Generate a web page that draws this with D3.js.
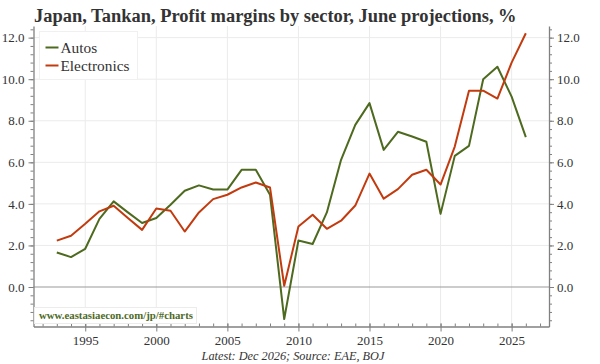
<!DOCTYPE html>
<html>
<head>
<meta charset="utf-8">
<script src="https://cdn.jsdelivr.net/npm/d3@7"></script>
<style>
  body { margin: 0; background: #fff; }
  text { font-family: "Liberation Serif", "DejaVu Serif", serif; fill: #333; }
</style>
</head>
<body>
<svg id="chart" width="600" height="364"></svg>
<script>
// data
let years = d3.range(1993, 2027)
let autos = [1.66, 1.44, 1.84, 3.28, 4.12, 3.59, 3.08, 3.32, 3.96, 4.63, 4.89, 4.69, 4.69, 5.64, 5.64, 4.44, -1.54,
             2.24, 2.07, 3.59, 6.12, 7.80, 8.85, 6.60, 7.47, 7.24, 6.99, 3.52, 6.31, 6.79, 10.0, 10.6, 9.16, 7.21]
let electronics = [2.23, 2.47, 3.04, 3.64, 3.91, 3.32, 2.75, 3.78, 3.67, 2.67, 3.59, 4.23, 4.44, 4.79, 5.03, 4.79, 0.06,
                   2.91, 3.48, 2.80, 3.19, 3.92, 5.46, 4.25, 4.71, 5.40, 5.64, 4.93, 6.76, 9.45, 9.45, 9.07, 10.8, 12.21]
let seriesNames = ["Autos", "Electronics"]
let xTicks = [1995, 2000, 2005, 2010, 2015, 2020, 2025]
let yTicks = [0, 2, 4, 6, 8, 10, 12]

const COLORS = ["#4d6a1f", "#c23b0e"]

let svg = d3.select('#chart')
let plotLeft = 33.5, plotRight = 549, plotTop = 26, plotBottom = 326.5

let x = d3.scaleLinear().domain([1991.36, 2027.63]).range([plotLeft, plotRight])
let y = d3.scaleLinear().domain([-1.9, 12.56]).range([plotBottom, plotTop])

// scale a text's font size so it spans the width seen in the reference
let fitText = (sel, width) => {
    let w = sel.node().getComputedTextLength()
    let fs = +sel.attr('font-size')
    sel.attr('font-size', (fs * width / w).toFixed(2))
    return +sel.attr('font-size')
}

// grid
let grid = svg.append('g')
grid.selectAll('.vgrid')
    .data(xTicks)
    .enter()
    .append('line')
    .attr('x1', d => x(d)).attr('x2', d => x(d))
    .attr('y1', plotTop).attr('y2', plotBottom)
    .attr('stroke', '#ebebeb')
grid.selectAll('.hgrid')
    .data(yTicks)
    .enter()
    .append('line')
    .attr('x1', plotLeft).attr('x2', plotRight)
    .attr('y1', d => y(d)).attr('y2', d => y(d))
    .attr('stroke', d => d === 0 ? '#9a9a9a' : '#ebebeb')
    .attr('stroke-width', d => d === 0 ? 1.2 : 1)

// lines
let line = d3.line()
    .x((d, i) => x(years[i]))
    .y(d => y(d))

let allSeries = [autos, electronics]
svg.append('g')
    .selectAll('path')
    .data(allSeries)
    .enter()
    .append('path')
    .attr('d', d => line(d))
    .attr('fill', 'none')
    .attr('stroke', (d, i) => COLORS[i])
    .attr('stroke-width', 2)
    .attr('stroke-linejoin', 'round')

// axes
let minorY = d3.range(-1.6, 12.5, 0.4).map(v => Math.round(v * 10) / 10)
let minorX = d3.range(1992, 2028)

let styleAxis = (g) => {
    g.selectAll('path.domain').attr('stroke', '#808080').attr('stroke-width', 1.3)
    g.selectAll('line').attr('stroke', '#808080')
    g.selectAll('text').attr('font-size', 13).attr('fill', '#333')
}

let leftMinor = svg.append('g')
    .attr('transform', 'translate(' + plotLeft + ',0)')
    .call(d3.axisLeft(y).tickValues(minorY).tickSize(3).tickFormat(''))
leftMinor.select('.domain').remove()
leftMinor.selectAll('line').attr('stroke', '#808080')

let leftAxis = svg.append('g')
    .attr('transform', 'translate(' + plotLeft + ',0)')
    .call(d3.axisLeft(y).tickValues(yTicks).tickSize(5).tickSizeOuter(0).tickPadding(4).tickFormat(d3.format('.1f')))
    .call(styleAxis)

let rightMinor = svg.append('g')
    .attr('transform', 'translate(' + plotRight + ',0)')
    .call(d3.axisRight(y).tickValues(minorY).tickSize(3).tickFormat(''))
rightMinor.select('.domain').remove()
rightMinor.selectAll('line').attr('stroke', '#808080')

let rightAxis = svg.append('g')
    .attr('transform', 'translate(' + plotRight + ',0)')
    .call(d3.axisRight(y).tickValues(yTicks).tickSize(5).tickSizeOuter(0).tickPadding(3).tickFormat(d3.format('.1f')))
    .call(styleAxis)

let bottomMinor = svg.append('g')
    .attr('transform', 'translate(0,' + plotBottom + ')')
    .call(d3.axisTop(x).tickValues(minorX).tickSize(3).tickFormat(''))
bottomMinor.select('.domain').remove()
bottomMinor.selectAll('line').attr('stroke', '#808080')

let bottomAxis = svg.append('g')
    .attr('transform', 'translate(0,' + plotBottom + ')')
    .call(d3.axisBottom(x).tickValues(xTicks).tickSize(5).tickSizeOuter(0).tickPadding(4).tickFormat(d3.format('d')))
    .call(styleAxis)
bottomAxis.selectAll('.tick line').attr('y1', -3)

// legend
let legend = svg.append('g').attr('transform', 'translate(39.5,31.5)')
legend.append('rect')
    .attr('width', 98).attr('height', 48)
    .attr('fill', '#fff').attr('stroke', '#f0f0f0')
let legendItem = legend.selectAll('.item')
    .data(seriesNames)
    .enter()
    .append('g')
    .attr('transform', (d, i) => 'translate(6,' + (16 + i * 18) + ')')
legendItem.append('line')
    .attr('x1', 0).attr('x2', 13)
    .attr('stroke', (d, i) => COLORS[i])
    .attr('stroke-width', 2)
let legendText = legendItem.append('text')
    .attr('x', 15).attr('y', 5)
    .attr('font-size', 15)
    .text(d => d)
let legendSize = fitText(legendText.filter(d => d === 'Electronics'), 69)
legendText.attr('font-size', legendSize)

// watermark
let mark = svg.append('g').attr('transform', 'translate(34.5,307.5)')
mark.append('rect')
    .attr('width', 162).attr('height', 16)
    .attr('fill', '#fff').attr('stroke', '#ececec')
let markText = mark.append('text')
    .attr('x', 4.5).attr('y', 11.5)
    .attr('font-size', 10.5).attr('font-weight', 'bold')
    .style('fill', '#4d6a1f')
    .text('www.eastasiaecon.com/jp/#charts')
fitText(markText, 154)

// title and footer
let title = svg.append('text')
    .attr('x', 34).attr('y', 21.5)
    .attr('font-size', 17).attr('font-weight', 'bold')
    .text('Japan, Tankan, Profit margins by sector, June projections, %')
fitText(title, 483)

let footer = svg.append('text')
    .attr('x', 293).attr('y', 360)
    .attr('text-anchor', 'middle')
    .attr('font-size', 13).attr('font-style', 'italic')
    .text('Latest: Dec 2026; Source: EAE, BOJ')
fitText(footer, 183)
</script>
</body>
</html>
